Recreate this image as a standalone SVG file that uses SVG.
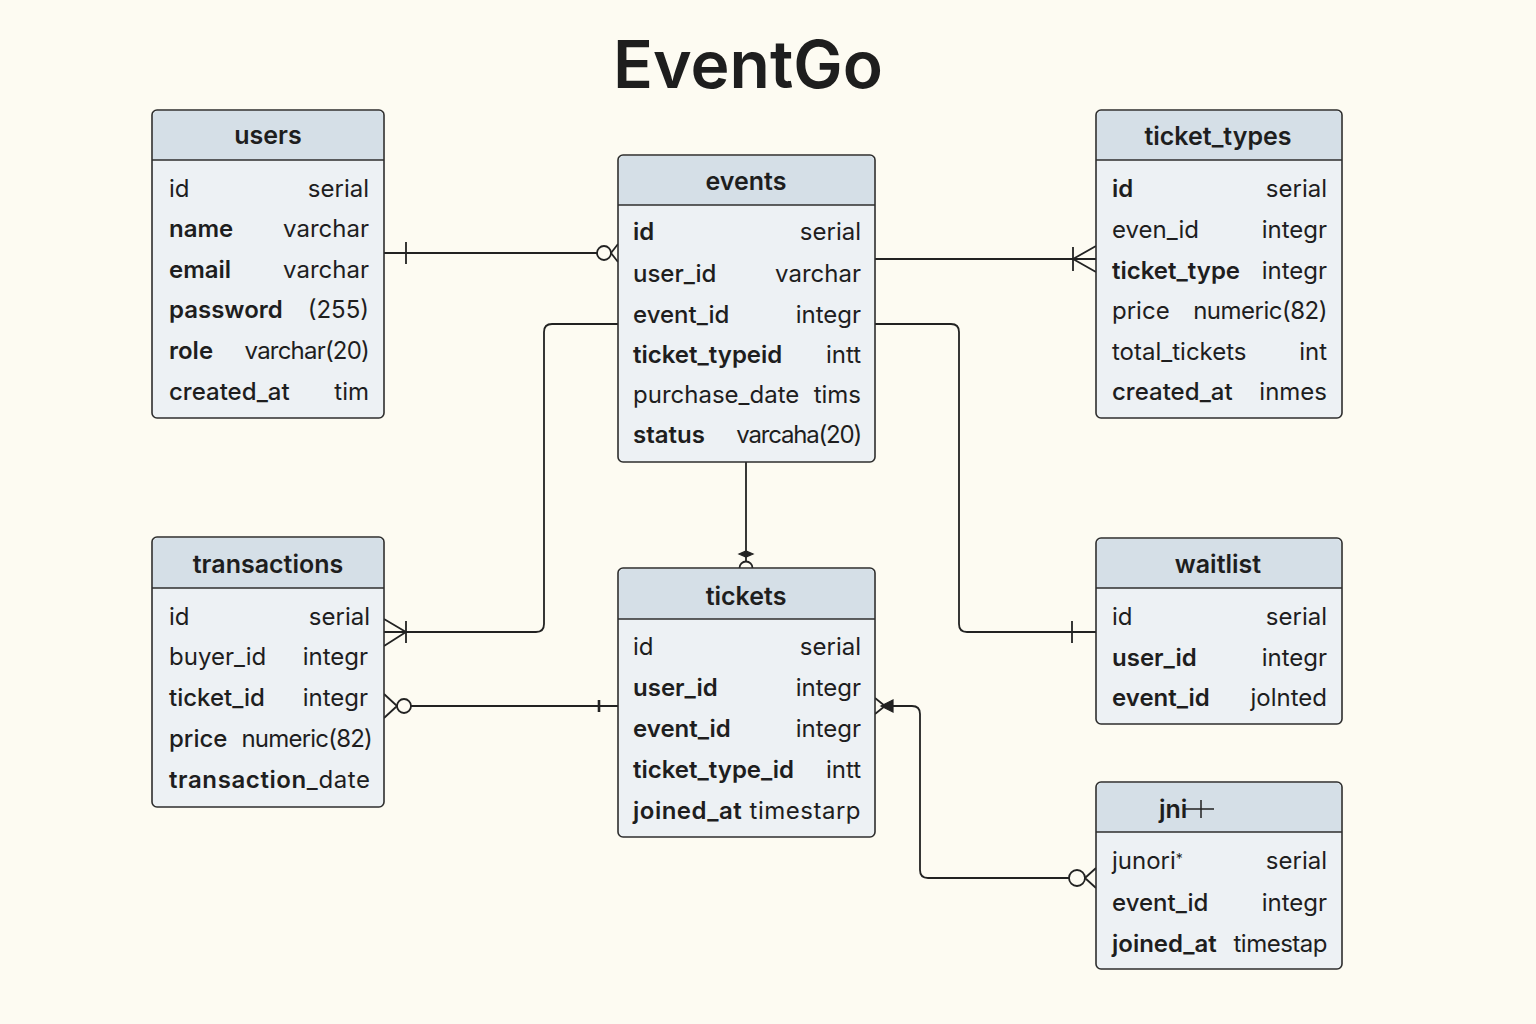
<svg xmlns="http://www.w3.org/2000/svg" width="1536" height="1024" viewBox="0 0 1536 1024">
<style>
.bg{fill:#fdfbf2}
.body{fill:#edf1f4;stroke:#2e2e2e;stroke-width:1.6}
.head{fill:#d5dfe7}
.sep{stroke:#2e2e2e;stroke-width:1.6}
.title{font-family:Inter,"Liberation Sans",sans-serif;font-size:66px;font-weight:600;fill:#1e1e1e;text-anchor:middle}
.ht{font-family:Inter,"Liberation Sans",sans-serif;font-size:25px;font-weight:600;fill:#1e1e1e;text-anchor:middle}
.f{font-family:Inter,"Liberation Sans",sans-serif;font-size:24px;fill:#1e1e1e}
.b{font-weight:600}
.m{font-weight:500}
.r{font-weight:400}
.t{font-family:Inter,"Liberation Sans",sans-serif;font-size:24px;fill:#1e1e1e;text-anchor:end;font-weight:400}
.c{fill:none;stroke:#222;stroke-width:1.8}
.cf{fill:#222;stroke:#222;stroke-width:1.2}
</style>
<rect class="bg" x="0" y="0" width="1536" height="1024"/>
<text class="title" x="748" y="88">EventGo</text>

<g id="connectors">
  <!-- users - events -->
  <path class="c" d="M384 253 H597"/>
  <path class="c" d="M406 242 V264"/>
  <circle class="c" cx="604" cy="253" r="7"/>
  <path class="c" d="M611 253 L618 244 M611 253 L618 262"/>
  <!-- events - ticket_types -->
  <path class="c" d="M875 259 H1096"/>
  <path class="c" d="M1073 247 V271"/>
  <path class="c" d="M1073 259 L1096 246 M1073 259 L1096 272"/>
  <!-- events - transactions -->
  <path class="c" d="M618 324 H552 Q544 324 544 332 V624 Q544 632 536 632 H384"/>
  <path class="c" d="M406 621 V643"/>
  <path class="c" d="M406 632 L384 619 M406 632 L384 646"/>
  <!-- transactions - tickets -->
  <path class="c" d="M411 706 H618"/>
  <circle class="c" cx="404" cy="706" r="7"/>
  <path class="c" d="M397 706 L384 694 M397 706 L384 718"/>
  <path class="c" d="M599 700 V712" style="stroke-width:2.6"/>
  <!-- events - tickets -->
  <path class="c" d="M746 462 V561"/>
  <path class="cf" d="M739 554 L746 551 L753 554 L746 557 Z"/>
  <path class="c" d="M739.5 568 A6.5 6.5 0 0 1 752.5 568"/>
  <!-- events - waitlist -->
  <path class="c" d="M875 324 H951 Q959 324 959 332 V624 Q959 632 967 632 H1096"/>
  <path class="c" d="M1072 621 V643"/>
  <!-- tickets - jni -->
  <path class="c" d="M893 706 H912 Q920 706 920 714 V870 Q920 878 928 878 H1069"/>
  <path class="cf" d="M881 706 L893 700 L893 712 Z"/>
  <path class="c" d="M875 698 L885 706 L875 714"/>
  <circle class="c" cx="1077" cy="878" r="8"/>
  <path class="c" d="M1085 878 L1096 868 M1085 878 L1096 888"/>
</g>

<g id="users">
  <rect class="body" x="152" y="110" width="232" height="308" rx="5"/>
  <path class="head" d="M153 160 V116 Q153 111 158 111 H378 Q383 111 383 116 V160 Z"/>
  <line class="sep" x1="152" y1="160" x2="384" y2="160"/>
  <text class="ht" x="268" y="144">users</text>
  <text class="f r" x="169" y="197">id</text><text class="t" x="369" y="197">serial</text>
  <text class="f b" x="169" y="237">name</text><text class="t" x="369" y="237">varchar</text>
  <text class="f b" x="169" y="278">email</text><text class="t" x="369" y="278">varchar</text>
  <text class="f b" x="169" y="318">password</text><text class="t" x="369" y="318">(255)</text>
  <text class="f b" x="169" y="359">role</text><text class="t" x="369" y="359" letter-spacing="-0.8">varchar(20)</text>
  <text class="f m" x="169" y="400">created_at</text><text class="t" x="369" y="400">tim</text>
</g>

<g id="events">
  <rect class="body" x="618" y="155" width="257" height="307" rx="5"/>
  <path class="head" d="M619 205 V161 Q619 156 624 156 H869 Q874 156 874 161 V205 Z"/>
  <line class="sep" x1="618" y1="205" x2="875" y2="205"/>
  <text class="ht" x="746" y="190">events</text>
  <text class="f b" x="633" y="240">id</text><text class="t" x="861" y="240">serial</text>
  <text class="f m" x="633" y="282">user_id</text><text class="t" x="861" y="282">varchar</text>
  <text class="f m" x="633" y="323">event_id</text><text class="t" x="861" y="323">integr</text>
  <text class="f b" x="633" y="363">ticket_typeid</text><text class="t" x="861" y="363">intt</text>
  <text class="f r" x="633" y="403">purchase_date</text><text class="t" x="861" y="403">tims</text>
  <text class="f b" x="633" y="443">status</text><text class="t" x="861" y="443" letter-spacing="-1.2">varcaha(20)</text>
</g>

<g id="ticket_types">
  <rect class="body" x="1096" y="110" width="246" height="308" rx="5"/>
  <path class="head" d="M1097 160 V116 Q1097 111 1102 111 H1336 Q1341 111 1341 116 V160 Z"/>
  <line class="sep" x1="1096" y1="160" x2="1342" y2="160"/>
  <text class="ht" x="1218" y="145">ticket_types</text>
  <text class="f b" x="1112" y="197">id</text><text class="t" x="1327" y="197">serial</text>
  <text class="f r" x="1112" y="238">even_id</text><text class="t" x="1327" y="238">integr</text>
  <text class="f b" x="1112" y="279">ticket_type</text><text class="t" x="1327" y="279">integr</text>
  <text class="f r" x="1112" y="319">price</text><text class="t" x="1327" y="319" letter-spacing="-0.5">numeric(82)</text>
  <text class="f r" x="1112" y="360">total_tickets</text><text class="t" x="1327" y="360">int</text>
  <text class="f m" x="1112" y="400">created_at</text><text class="t" x="1327" y="400">inmes</text>
</g>

<g id="transactions">
  <rect class="body" x="152" y="537" width="232" height="270" rx="5"/>
  <path class="head" d="M153 588 V543 Q153 538 158 538 H378 Q383 538 383 543 V588 Z"/>
  <line class="sep" x1="152" y1="588" x2="384" y2="588"/>
  <text class="ht" x="268" y="573">transactions</text>
  <text class="f r" x="169" y="625">id</text><text class="t" x="370" y="625">serial</text>
  <text class="f r" x="169" y="665">buyer_id</text><text class="t" x="368" y="665">integr</text>
  <text class="f m" x="169" y="706">ticket_id</text><text class="t" x="368" y="706">integr</text>
  <text class="f m" x="169" y="747">price</text><text class="t" x="372" y="747" letter-spacing="-0.8">numeric(82)</text>
  <text class="f" x="169" y="788" letter-spacing="0.6"><tspan class="b">transaction</tspan><tspan class="r">_date</tspan></text>
</g>

<g id="tickets">
  <rect class="body" x="618" y="568" width="257" height="269" rx="5"/>
  <path class="head" d="M619 619 V574 Q619 569 624 569 H869 Q874 569 874 574 V619 Z"/>
  <line class="sep" x1="618" y1="619" x2="875" y2="619"/>
  <text class="ht" x="746" y="605">tickets</text>
  <text class="f r" x="633" y="655">id</text><text class="t" x="861" y="655">serial</text>
  <text class="f b" x="633" y="696">user_id</text><text class="t" x="861" y="696">integr</text>
  <text class="f b" x="633" y="737">event_id</text><text class="t" x="861" y="737">integr</text>
  <text class="f b" x="633" y="778">ticket_type_id</text><text class="t" x="861" y="778">intt</text>
  <text class="f" x="633" y="819" letter-spacing="0.5"><tspan class="b">joined_at</tspan><tspan class="r"> timestarp</tspan></text>
</g>

<g id="waitlist">
  <rect class="body" x="1096" y="538" width="246" height="186" rx="5"/>
  <path class="head" d="M1097 588 V544 Q1097 539 1102 539 H1336 Q1341 539 1341 544 V588 Z"/>
  <line class="sep" x1="1096" y1="588" x2="1342" y2="588"/>
  <text class="ht" x="1218" y="573">waitlist</text>
  <text class="f r" x="1112" y="625">id</text><text class="t" x="1327" y="625">serial</text>
  <text class="f b" x="1112" y="666">user_id</text><text class="t" x="1327" y="666">integr</text>
  <text class="f b" x="1112" y="706">event_id</text><text class="t" x="1327" y="706">jolnted</text>
</g>

<g id="jni">
  <rect class="body" x="1096" y="782" width="246" height="187" rx="5"/>
  <path class="head" d="M1097 832 V788 Q1097 783 1102 783 H1336 Q1341 783 1341 788 V832 Z"/>
  <line class="sep" x1="1096" y1="832" x2="1342" y2="832"/>
  <text class="ht" x="1159" y="818" style="text-anchor:start">jni</text>
  <path class="c" d="M1184 809 H1214 M1201 800 V818" style="stroke-width:1.5"/>
  <text class="f r" x="1112" y="869">junori<tspan font-size="14" dy="-5">*</tspan></text><text class="t" x="1327" y="869">serial</text>
  <text class="f m" x="1112" y="911">event_id</text><text class="t" x="1327" y="911">integr</text>
  <text class="f b" x="1112" y="952">joined_at</text><text class="t" x="1327" y="952" letter-spacing="-0.5">timestap</text>
</g>
</svg>
